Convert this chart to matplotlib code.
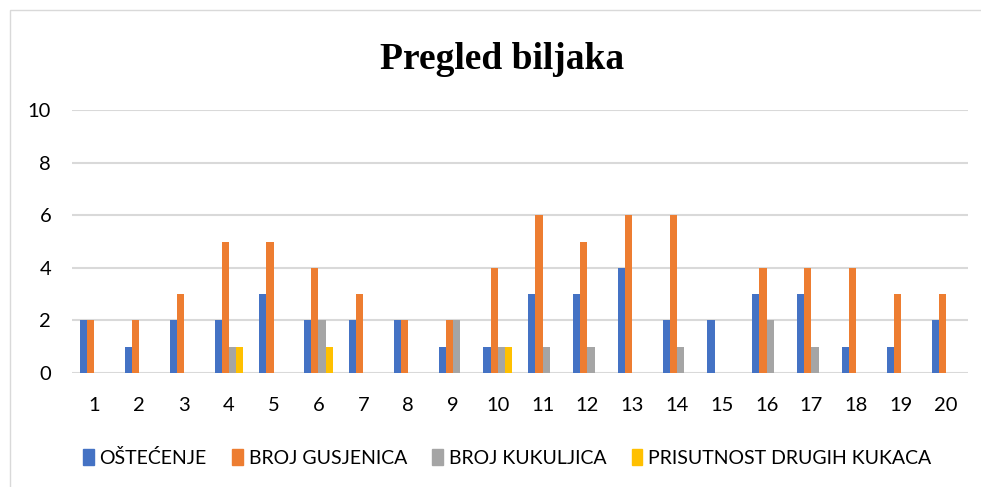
import matplotlib.pyplot as plt
import matplotlib.patches as mpatches
import numpy as np

categories = [str(i) for i in range(1, 21)]
ostecenje = [2, 1, 2, 2, 3, 2, 2, 2, 1, 1, 3, 3, 4, 2, 2, 3, 3, 1, 1, 2]
gusjenice = [2, 2, 3, 5, 5, 4, 3, 2, 2, 4, 6, 5, 6, 6, 0, 4, 4, 4, 3, 3]
kukuljice = [0, 0, 0, 1, 0, 2, 0, 0, 2, 1, 1, 1, 0, 1, 0, 2, 1, 0, 0, 0]
drugi_kukci = [0, 0, 0, 1, 0, 1, 0, 0, 0, 1, 0, 0, 0, 0, 0, 0, 0, 0, 0, 0]

series = [
    ("OŠTEĆENJE", ostecenje, "#4472C4"),
    ("BROJ GUSJENICA", gusjenice, "#ED7D31"),
    ("BROJ KUKULJICA", kukuljice, "#A5A5A5"),
    ("PRISUTNOST DRUGIH KUKACA", drugi_kukci, "#FFC000"),
]

plt.rcParams['font.family'] = ['Lato', 'DejaVu Sans']

fig = plt.figure(figsize=(9.81, 4.87), dpi=100)
ax = fig.add_axes([0.0734, 0.234, 0.9136, 0.540])

x = np.arange(len(categories))
w = 0.16
for i, (name, vals, col) in enumerate(series):
    ax.bar(x + (i - 1.5) * w, vals, width=w, color=col, label=name, zorder=3)

ax.set_xlim(-0.5, len(categories) - 0.5)
ax.set_ylim(0, 10)
ax.set_yticks(range(0, 11, 2))
ax.set_xticks(x)
ax.set_xticklabels(categories)
ax.grid(axis='y', color='#D9D9D9', linewidth=1.5, zorder=0)
for s in ax.spines.values():
    s.set_visible(False)
ax.tick_params(length=0, labelsize=14.5, colors='black')
ax.tick_params(axis='x', pad=17)
ax.tick_params(axis='y', pad=15)

fig.text(0.512, 0.878, "Pregled biljaka", ha='center', va='center',
         fontsize=27, fontweight='bold', family='Liberation Serif')

handles = [mpatches.Patch(color=c, label=n) for n, _, c in series]
fig.legend(handles=handles, loc='center', bbox_to_anchor=(0.517, 0.06), ncol=4,
           frameon=False, fontsize=14, handlelength=0.55, handleheight=0.9,
           handletextpad=0.3, columnspacing=1.3)

fig.patches.append(mpatches.Rectangle((10 / 981, -0.01), 1.0, 1 - 10 / 487 + 0.01,
                                      transform=fig.transFigure, fill=False,
                                      edgecolor='#D9D9D9', linewidth=1))

fig.savefig("out.png", dpi=100)
